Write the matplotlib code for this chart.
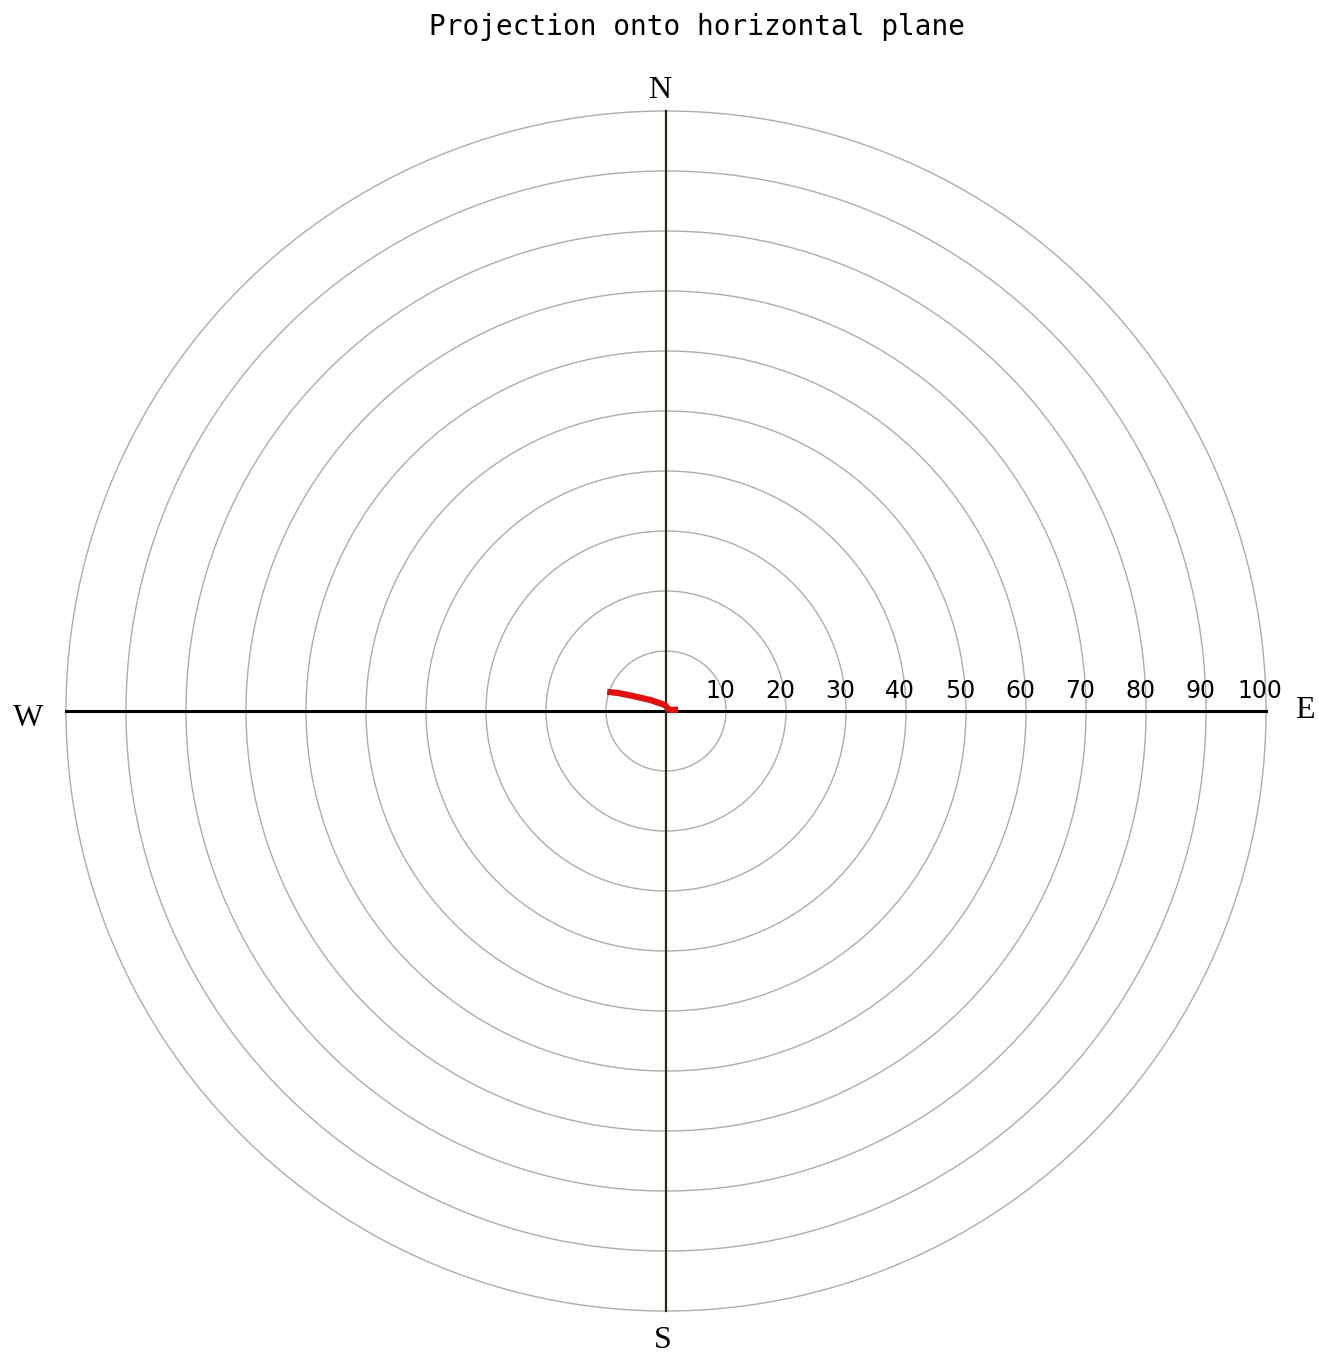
import numpy as np
import matplotlib.pyplot as plt

# ring radii and their labels
rings = [10, 20, 30, 40, 50, 60, 70, 80, 90, 100]
ring_labels = ["10", "20", "30", "40", "50", "60", "70", "80", "90", "100"]

# horizontal projection of the trace (east, north)
trace_e = [2.0, 0.5, -0.2, -2.5, -5.5, -8.0, -9.8]
trace_n = [0.2, 0.2, 1.0, 1.8, 2.5, 3.0, 3.2]

fig = plt.figure(figsize=(13.19, 13.56), dpi=100)
ax = fig.add_axes([0, 0, 1, 1])
ax.set_xlim(-111, 108.83)
ax.set_ylim(-107.5, 118.5)
ax.axis("off")

t = np.linspace(0, 2 * np.pi, 721)
for r in rings:
    ax.plot(r * np.cos(t), r * np.sin(t), color="#adadad", lw=1.0, zorder=1)

ax.plot([-100, 100], [0, 0], color="black", lw=2.2, zorder=2)
ax.plot([0, 0], [-100, 100], color="#2a2a10", lw=1.6, zorder=2)

for r, lab in zip(rings, ring_labels):
    ax.text(r - 1, 1.3, lab, ha="center", va="bottom", fontsize=17,
            family="DejaVu Sans", color="black")

serif = ["Liberation Serif", "DejaVu Serif"]
ax.text(-1, 103.5, "N", ha="center", va="center", fontsize=23, family=serif)
ax.text(-0.5, -105, "S", ha="center", va="center", fontsize=23, family=serif)
ax.text(-106.3, -1.2, "W", ha="center", va="center", fontsize=23, family=serif)
ax.text(106.5, 0, "E", ha="center", va="center", fontsize=23, family=serif)

ax.plot(trace_e, trace_n, color="#e01010", lw=4.5, solid_capstyle="butt", zorder=3)

fig.text(697 / 1319, 1 - 27 / 1356, "Projection onto horizontal plane",
         ha="center", va="center", fontsize=20, family="DejaVu Sans Mono")

fig.savefig("out.png", dpi=100, facecolor="white")
